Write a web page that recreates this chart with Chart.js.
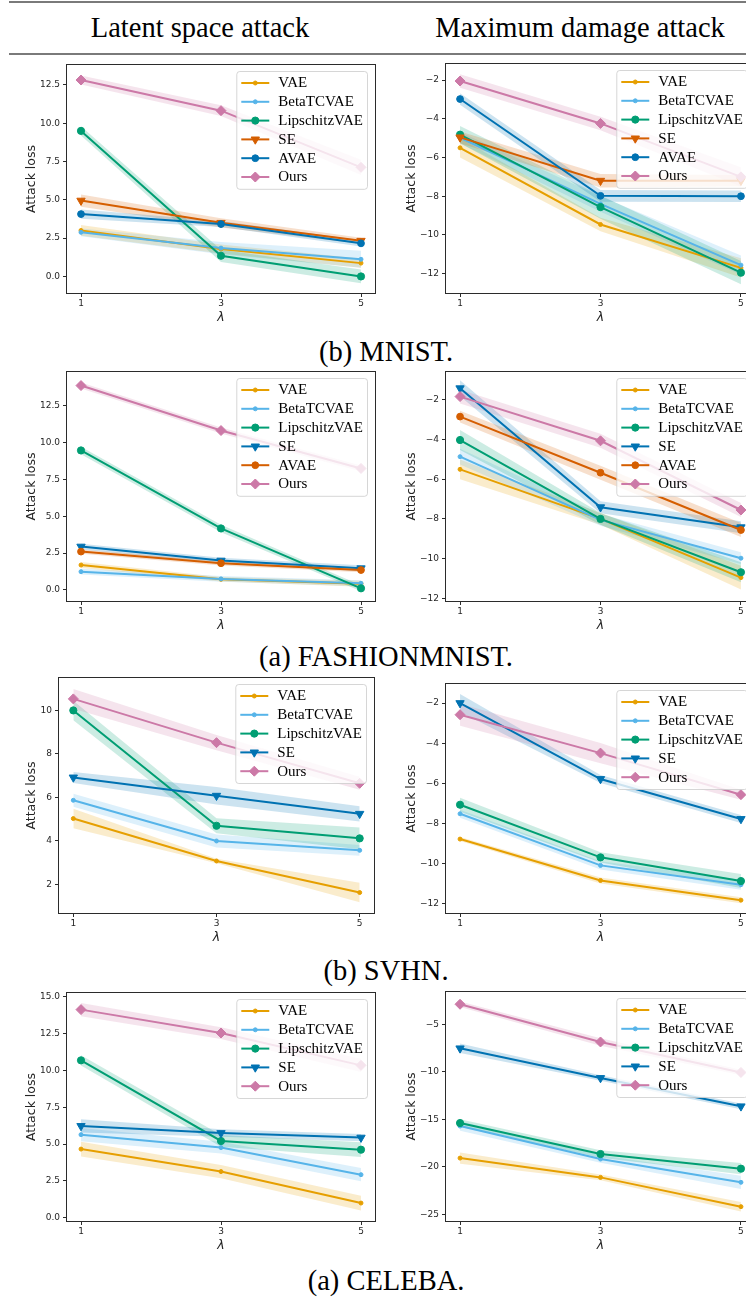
<!DOCTYPE html>
<html>
<head>
<meta charset="utf-8">
<script src="https://cdn.jsdelivr.net/npm/chart.js@4.4.1/dist/chart.umd.min.js"></script>
<style>
  html, body { margin: 0; padding: 0; background: #fff; }
  #page { position: relative; width: 746px; height: 1301px; overflow: hidden; background: #fff; }
  .rule { position: absolute; left: 9px; right: 0; height: 1.6px; background: #7a7a7a; }
  .head, .caption {
    position: absolute; transform: translate(-50%, -50%);
    font-family: "Liberation Serif", "Times New Roman", serif;
    font-size: 28.5px; color: #000; white-space: nowrap; line-height: 1;
  }
  canvas { position: absolute; }
</style>
</head>
<body>
<div id="page">
  <div class="rule" style="top:1px"></div>
  <div class="rule" style="top:53px"></div>
  <div class="head" style="left:200px; top:28px">Latent space attack</div>
  <div class="head" style="left:580px; top:28px">Maximum damage attack</div>
  <div class="caption" style="left:386px; top:352px">(b) MNIST.</div>
  <div class="caption" style="left:386px; top:657px">(a) FASHIONMNIST.</div>
  <div class="caption" style="left:386px; top:971px">(b) SVHN.</div>
  <div class="caption" style="left:386px; top:1281px">(a) CELEBA.</div>
</div>
<script>
// x positions shared by every panel
const lambdas = [1, 3, 5];

// series names
const sixNames = ['VAE', 'BetaTCVAE', 'LipschitzVAE', 'SE', 'AVAE', 'Ours'];
const fiveNames = ['VAE', 'BetaTCVAE', 'LipschitzVAE', 'SE', 'Ours'];

// MNIST, latent space attack: means and spread per series
const mnistLatent = [[3.0, 1.79, 0.87], [2.88, 1.85, 1.12], [9.5, 1.35, 0.0], [4.95, 3.5, 2.33], [4.07, 3.42, 2.16], [12.82, 10.82, 7.12]];
const mnistLatentSd = [[0.35, 0.3, 0.3], [0.25, 0.4, 0.55], [0.3, 0.4, 0.45], [0.4, 0.3, 0.2], [0.3, 0.2, 0.2], [0.3, 0.35, 0.5]];
// MNIST, maximum damage attack
const mnistDamage = [[-5.5, -9.46, -11.7], [-4.98, -8.4, -11.56], [-4.82, -8.56, -11.95], [-4.96, -7.2, -7.2], [-2.98, -7.98, -8.0], [-2.05, -4.24, -7.0]];
const mnistDamageSd = [[0.5, 0.35, 0.5], [0.3, 0.4, 0.5], [0.45, 0.6, 0.6], [0.3, 0.35, 0.3], [0.3, 0.3, 0.3], [0.35, 0.35, 0.5]];

// FashionMNIST
const fashionLatent = [[1.69, 0.72, 0.42], [1.24, 0.75, 0.45], [9.46, 4.17, 0.11], [2.94, 1.99, 1.47], [2.6, 1.81, 1.35], [13.86, 10.81, 8.24]];
const fashionLatentSd = [[0.2, 0.15, 0.2], [0.2, 0.2, 0.2], [0.25, 0.25, 0.2], [0.2, 0.2, 0.2], [0.15, 0.15, 0.15], [0.2, 0.2, 0.2]];
const fashionDamage = [[-5.5, -8.0, -10.96], [-4.86, -8.05, -9.98], [-4.02, -8.0, -10.69], [-1.41, -7.41, -8.42], [-2.84, -5.67, -8.56], [-1.83, -4.06, -7.55]];
const fashionDamageSd = [[0.5, 0.3, 0.6], [0.4, 0.3, 0.3], [0.5, 0.3, 0.5], [0.4, 0.3, 0.3], [0.3, 0.35, 0.35], [0.35, 0.35, 0.35]];

// SVHN
const svhnLatent = [[5.03, 3.08, 1.63], [5.87, 4.0, 3.57], [10.0, 4.7, 4.12], [6.92, 6.08, 5.25], [10.53, 8.52, 6.65]];
const svhnLatentSd = [[0.45, 0.1, 0.45], [0.3, 0.3, 0.25], [0.45, 0.35, 0.5], [0.25, 0.4, 0.35], [0.45, 0.35, 0.3]];
const svhnDamage = [[-8.77, -10.83, -11.81], [-7.51, -10.08, -11.04], [-7.06, -9.68, -10.86], [-2.0, -5.78, -7.77], [-2.58, -4.49, -6.56]];
const svhnDamageSd = [[0.1, 0.15, 0.15], [0.2, 0.2, 0.25], [0.35, 0.25, 0.35], [0.45, 0.2, 0.2], [0.55, 0.5, 0.25]];

// CelebA
const celebaLatent = [[4.66, 3.13, 0.99], [5.64, 4.76, 2.92], [10.69, 5.21, 4.62], [6.23, 5.75, 5.44], [14.14, 12.55, 10.35]];
const celebaLatentSd = [[0.5, 0.45, 0.5], [0.45, 0.4, 0.45], [0.35, 0.4, 0.5], [0.45, 0.25, 0.25], [0.45, 0.4, 0.45]];
const celebaDamage = [[-19.08, -21.11, -24.19], [-15.71, -19.18, -21.63], [-15.39, -18.65, -20.19], [-7.53, -10.65, -13.63], [-2.89, -6.86, -10.07]];
const celebaDamageSd = [[0.6, 0.3, 0.5], [0.5, 0.4, 0.7], [0.4, 0.4, 0.6], [0.5, 0.3, 0.3], [0.3, 0.4, 0.3]];

// y tick values
const lossTicks = [0, 2.5, 5, 7.5, 10, 12.5];
const celebaLossTicks = [0, 2.5, 5, 7.5, 10, 12.5, 15];
const svhnLossTicks = [2, 4, 6, 8, 10];
const damageTicks = [-12, -10, -8, -6, -4, -2];
const celebaDamageTicks = [-25, -20, -15, -10, -5];

const ORANGE = '#E69F00', SKY = '#56B4E9', GREEN = '#009E73', BLUE = '#0072B2', RED = '#D55E00', PINK = '#CC79A7';
const mnistColors = [ORANGE, SKY, GREEN, RED, BLUE, PINK];
const fashionColors = [ORANGE, SKY, GREEN, BLUE, RED, PINK];
const fiveColors = [ORANGE, SKY, GREEN, BLUE, PINK];

const markers = {
  VAE: { pointStyle: 'circle', radius: 2, rotation: 0 },
  BetaTCVAE: { pointStyle: 'circle', radius: 2, rotation: 0 },
  LipschitzVAE: { pointStyle: 'circle', radius: 3.6, rotation: 0 },
  SE: { pointStyle: 'triangle', radius: 4.8, rotation: 180 },
  AVAE: { pointStyle: 'circle', radius: 3.4, rotation: 0 },
  Ours: { pointStyle: 'rectRot', radius: 5, rotation: 0 }
};

Chart.defaults.font.family = '"DejaVu Sans", sans-serif';
Chart.defaults.font.size = 9;
Chart.defaults.color = '#262626';

function rgba(hex, a) {
  const n = parseInt(hex.slice(1), 16);
  return `rgba(${n >> 16},${(n >> 8) & 255},${n & 255},${a})`;
}

function fmtTick(v, decimals) {
  const s = Math.abs(v).toFixed(decimals);
  return v < 0 ? '\u2212' + s : s;
}

// axes frame plus a matplotlib-style boxed legend in the upper right
const frameLegend = {
  id: 'frameLegend',
  afterDatasetsDraw(chart) {
    const ctx = chart.ctx, a = chart.chartArea;
    ctx.save();
    ctx.strokeStyle = '#2b2b2b';
    ctx.lineWidth = 1;
    ctx.strokeRect(a.left - 0.5, a.top - 0.5, a.right - a.left + 1, a.bottom - a.top + 1);

    const items = chart.data.datasets.filter(d => d.marker);
    ctx.font = '15px "Liberation Serif", serif';
    const textW = Math.max(...items.map(d => ctx.measureText(d.label).width));
    const rowH = 18.8, handle = 28;
    const w = 5 + handle + 9 + textW + 4;
    const h = rowH * items.length + 5;
    const x0 = a.right - 8 - w, y0 = a.top + 6;

    ctx.beginPath();
    ctx.roundRect(x0 + 0.5, y0 + 0.5, w, h, 3);
    ctx.fillStyle = 'rgba(255,255,255,0.8)';
    ctx.fill();
    ctx.strokeStyle = 'rgba(204,204,204,0.8)';
    ctx.stroke();

    items.forEach((d, i) => {
      const cy = y0 + 12 + i * rowH;
      ctx.strokeStyle = d.borderColor;
      ctx.fillStyle = d.borderColor;
      ctx.lineWidth = 2;
      ctx.beginPath();
      ctx.moveTo(x0 + 5, cy);
      ctx.lineTo(x0 + 5 + handle, cy);
      ctx.stroke();
      ctx.lineWidth = 1;
      Chart.helpers.drawPoint(ctx, { ...d.marker, borderWidth: 1 }, x0 + 5 + handle / 2, cy);
      ctx.fillStyle = '#000';
      ctx.textBaseline = 'middle';
      ctx.textAlign = 'left';
      ctx.fillText(d.label, x0 + 5 + handle + 9, cy + 0.5);
    });
    ctx.restore();
  }
};

function makePanel(p) {
  const padTop = 10, padRight = 10, axisH = 32;
  const [bl, bt, br, bb] = p.box;
  const axisW = bl - p.left;
  const w = axisW + (br - bl) + padRight;
  const h = padTop + (bb - bt) + axisH;
  const cv = document.createElement('canvas');
  cv.width = w; cv.height = h;
  cv.style.left = p.left + 'px';
  cv.style.top = (bt - padTop) + 'px';
  cv.style.width = w + 'px';
  cv.style.height = h + 'px';
  document.getElementById('page').appendChild(cv);

  const bands = [], lines = [];
  p.names.forEach((name, i) => {
    const m = p.means[i], s = p.sds[i], c = p.colors[i];
    bands.push({
      data: lambdas.map((x, k) => ({ x, y: m[k] + s[k] })),
      borderWidth: 0, pointRadius: 0, fill: '+1',
      backgroundColor: rgba(c, 0.2), order: 100 - i
    });
    bands.push({
      data: lambdas.map((x, k) => ({ x, y: m[k] - s[k] })),
      borderWidth: 0, pointRadius: 0, fill: false, order: 100 - i
    });
    const mk = markers[name];
    lines.push({
      label: name, marker: mk,
      data: lambdas.map((x, k) => ({ x, y: m[k] })),
      borderColor: c, backgroundColor: c, borderWidth: 2, fill: false,
      pointStyle: mk.pointStyle, pointRadius: mk.radius, pointRotation: mk.rotation,
      pointBackgroundColor: c, pointBorderColor: c, pointBorderWidth: 1,
      order: 50 - i
    });
  });

  new Chart(cv, {
    type: 'line',
    data: { datasets: bands.concat(lines) },
    options: {
      responsive: false, animation: false, devicePixelRatio: 1,
      layout: { padding: { top: padTop, right: padRight, left: 0, bottom: 0 } },
      plugins: { legend: { display: false }, tooltip: { enabled: false }, filler: { propagate: false } },
      events: [],
      scales: {
        x: {
          type: 'linear', min: 0.8, max: 5.2,
          afterBuildTicks: s => { s.ticks = lambdas.map(v => ({ value: v })); },
          afterFit: s => { s.height = axisH; },
          ticks: { padding: 1, autoSkip: false, maxRotation: 0, callback: v => String(v) },
          grid: { drawOnChartArea: false, drawTicks: true, tickLength: 4, color: '#2b2b2b' },
          border: { display: false },
          title: { display: true, text: '\u03bb', padding: 0, font: { size: 12.5, style: 'italic' } }
        },
        y: {
          type: 'linear', min: p.yMin, max: p.yMax,
          afterBuildTicks: s => { s.ticks = p.yTicks.map(v => ({ value: v })); },
          afterFit: s => { s.width = axisW; },
          ticks: { padding: 3, autoSkip: false, callback: v => fmtTick(v, p.decimals) },
          grid: { drawOnChartArea: false, drawTicks: true, tickLength: 4, color: '#2b2b2b' },
          border: { display: false },
          title: { display: true, text: 'Attack loss', padding: { top: 24.5, bottom: 0 }, font: { size: 12.5 } }
        }
      }
    },
    plugins: [frameLegend]
  });
}

const panels = [
  { left: 0, box: [67, 65, 375, 293], names: sixNames, colors: mnistColors, means: mnistLatent, sds: mnistLatentSd, yMin: -1.08, yMax: 13.8, yTicks: lossTicks, decimals: 1 },
  { left: 380, box: [446, 64, 755, 293], names: sixNames, colors: mnistColors, means: mnistDamage, sds: mnistDamageSd, yMin: -13.0, yMax: -1.17, yTicks: damageTicks, decimals: 0 },
  { left: 0, box: [67, 372, 375, 601], names: sixNames, colors: fashionColors, means: fashionLatent, sds: fashionLatentSd, yMin: -0.75, yMax: 14.78, yTicks: lossTicks, decimals: 1 },
  { left: 380, box: [446, 372, 755, 601], names: sixNames, colors: fashionColors, means: fashionDamage, sds: fashionDamageSd, yMin: -12.14, yMax: -0.59, yTicks: damageTicks, decimals: 0 },
  { left: 0, box: [59, 678, 374, 913], names: fiveNames, colors: fiveColors, means: svhnLatent, sds: svhnLatentSd, yMin: 0.69, yMax: 11.49, yTicks: svhnLossTicks, decimals: 0 },
  { left: 380, box: [446, 684, 755, 913], names: fiveNames, colors: fiveColors, means: svhnDamage, sds: svhnDamageSd, yMin: -12.45, yMax: -1.05, yTicks: damageTicks, decimals: 0 },
  { left: 0, box: [67, 993, 375, 1221], names: fiveNames, colors: fiveColors, means: celebaLatent, sds: celebaLatentSd, yMin: -0.23, yMax: 15.27, yTicks: celebaLossTicks, decimals: 1 },
  { left: 380, box: [446, 992, 755, 1221], names: fiveNames, colors: fiveColors, means: celebaDamage, sds: celebaDamageSd, yMin: -25.7, yMax: -1.6, yTicks: celebaDamageTicks, decimals: 0 }
];

panels.forEach(makePanel);
</script>
</body>
</html>
